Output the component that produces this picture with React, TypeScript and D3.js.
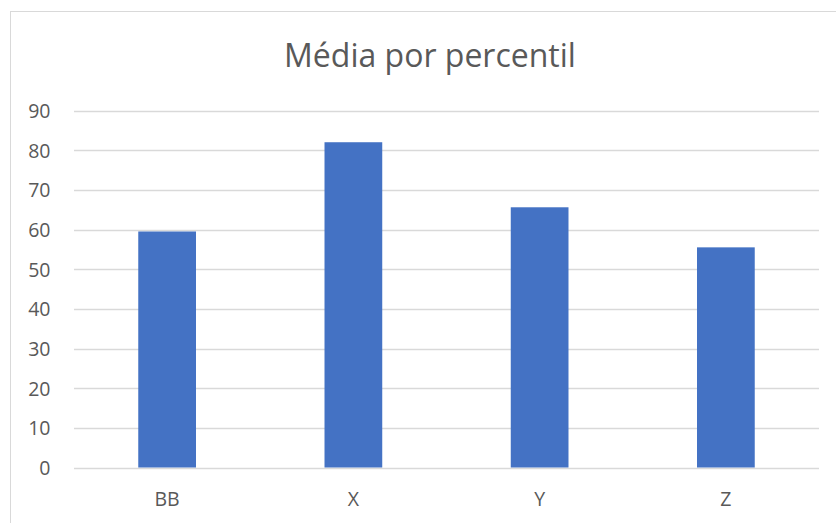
import React from "react";
import * as d3 from "d3";

const categories = ["BB", "X", "Y", "Z"];
const values = [59.5, 82, 65.6, 55.5];
const yTicks = [0, 10, 20, 30, 40, 50, 60, 70, 80, 90];
const title = "Média por percentil";

export default function App() {
  const W = 836, H = 523;
  const left = 74, right = 819, top = 110.5, bottom = 467.5;
  const x = d3.scaleBand<string>().domain(categories).range([left, right]).paddingInner(0.69).paddingOuter(0.345);
  const y = d3.scaleLinear().domain([0, 90]).range([bottom, top]);
  const font = "Open Sans, Lato, sans-serif";
  return (
    <svg width={W} height={H} style={{ position: "absolute", left: 0, top: 0 }}>
      <rect x={0} y={0} width={W} height={H} fill="#fff" />
      <rect x={10.5} y={11.5} width={W + 10} height={H + 10} fill="none" stroke="#d9d9d9" strokeWidth={1} />
      <text x={430} y={66.5} textAnchor="middle" fontFamily={font} fontSize={32} fill="#595959">{title}</text>
      {yTicks.map(t => (
        <g key={t}>
          <line x1={left} x2={right} y1={Math.round(y(t)) + 0.5} y2={Math.round(y(t)) + 0.5} stroke="#d9d9d9" strokeWidth={1.3} />
          <text x={50.5} y={y(t) + 7.5} textAnchor="end" fontFamily={font} fontSize={19.5} fill="#595959">{t}</text>
        </g>
      ))}
      {categories.map((c, i) => (
        <rect key={c} x={x(c)!} y={y(values[i])} width={x.bandwidth()} height={y(0) - y(values[i])} fill="#4472C4" />
      ))}
      {categories.map(c => (
        <text key={c} x={x(c)! + x.bandwidth() / 2} y={506} textAnchor="middle" fontFamily={font} fontSize={19.5} fill="#595959">{c}</text>
      ))}
    </svg>
  );
}
